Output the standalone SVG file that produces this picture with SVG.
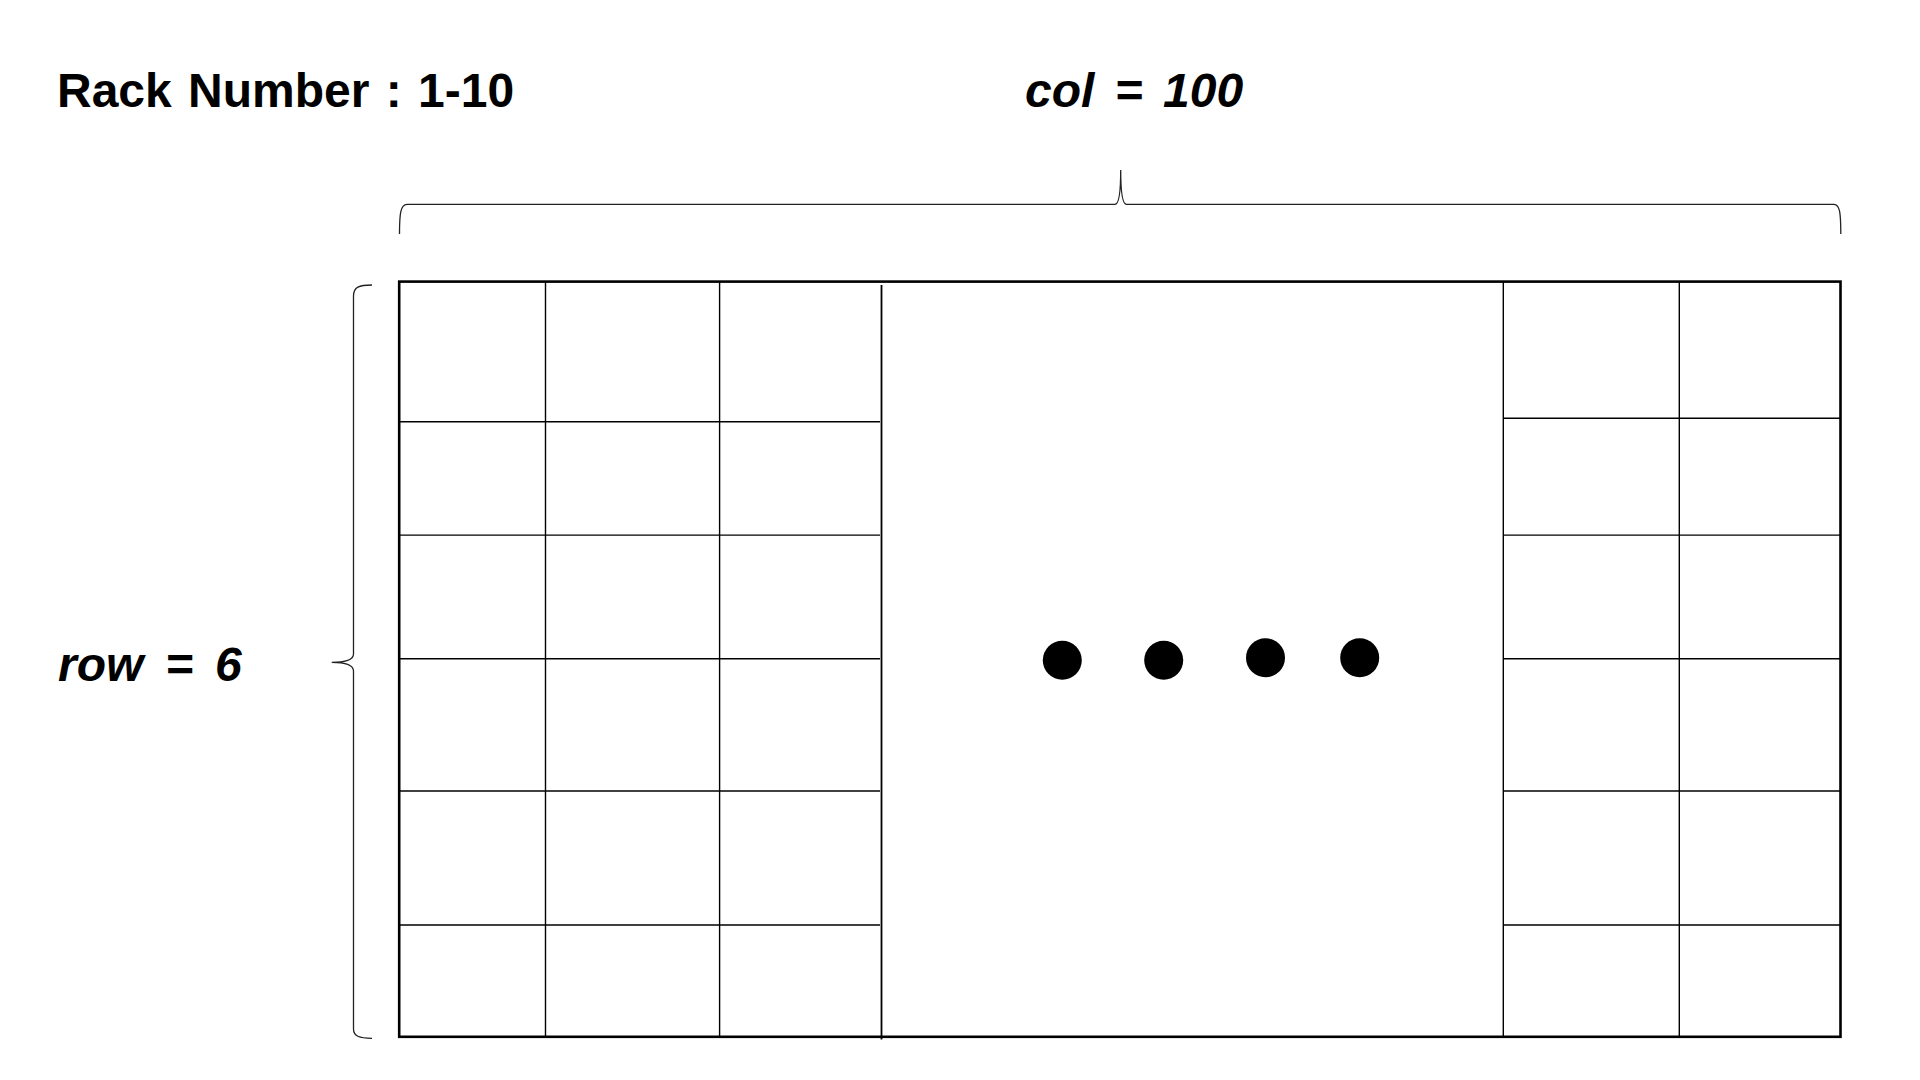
<svg xmlns="http://www.w3.org/2000/svg" width="1920" height="1080" viewBox="0 0 1920 1080">
  <style>
    .title { font-family: "Liberation Sans", Arial, sans-serif; font-weight: bold; font-size: 48px; fill: #000; }
    .label { font-family: "Liberation Sans", Arial, sans-serif; font-weight: bold; font-style: italic; font-size: 48px; fill: #000; }
    .outer { fill: none; stroke: #000; stroke-width: 2.6; }
    .grid { stroke: #000; stroke-width: 1.4; fill: none; }
    .brace { fill: none; stroke: #222; stroke-width: 1.3; }
    .dot { fill: #000; }
  </style>
  <rect x="0" y="0" width="1920" height="1080" fill="#fff"/>

  <g id="title">
    <text class="title" x="57" y="106.5" word-spacing="3">Rack Number : 1-10</text>
  </g>

  <g id="col-label">
    <text class="label" x="1025" y="106.5" word-spacing="7">col = 100</text>
  </g>

  <g id="row-label">
    <text class="label" x="58" y="681" word-spacing="8.5">row = 6</text>
  </g>

  <g id="col-brace">
    <path class="brace" d="M399.5,234 C399.5,214 400.5,204.3 407,204.3 L1115,204.3 C1119,204.3 1120.7,192 1120.7,170 C1120.7,192 1122.5,204.3 1126.5,204.3 L1834,204.3 C1840,204.3 1840.8,214 1840.8,234"/>
  </g>

  <g id="row-brace">
    <path class="brace" d="M372,285 C359,285 353.5,287 353.5,296 L353.5,654 C353.5,660 346,662.3 331.7,662.3 C346,662.3 353.5,664.5 353.5,671 L353.5,1029 C353.5,1036 359,1038.3 372,1038.3"/>
  </g>

  <g id="rack-grid">
    <g id="left-block">
      <line class="grid" x1="545.5" y1="282" x2="545.5" y2="1037"/>
      <line class="grid" x1="719.6" y1="282" x2="719.6" y2="1037"/>
      <line class="grid" x1="399" y1="421.7" x2="880" y2="421.7"/>
      <line class="grid" x1="399" y1="535.1" x2="880" y2="535.1"/>
      <line class="grid" x1="399" y1="658.8" x2="880" y2="658.8"/>
      <line class="grid" x1="399" y1="791" x2="880" y2="791"/>
      <line class="grid" x1="399" y1="925" x2="880" y2="925"/>
    </g>
    <line id="middle-divider" x1="881.5" y1="285" x2="881.5" y2="1039.5" stroke="#000" stroke-width="1.8"/>
    <g id="right-block">
      <line class="grid" x1="1503.3" y1="282" x2="1503.3" y2="1037"/>
      <line class="grid" x1="1679.3" y1="282" x2="1679.3" y2="1037"/>
      <line class="grid" x1="1503.3" y1="418.3" x2="1840" y2="418.3"/>
      <line class="grid" x1="1503.3" y1="535.1" x2="1840" y2="535.1"/>
      <line class="grid" x1="1503.3" y1="658.8" x2="1840" y2="658.8"/>
      <line class="grid" x1="1503.3" y1="791" x2="1840" y2="791"/>
      <line class="grid" x1="1503.3" y1="925" x2="1840" y2="925"/>
    </g>
    <rect id="rack-outline" class="outer" x="399.2" y="281.6" width="1441.3" height="755.2"/>
  </g>

  <g id="ellipsis">
    <circle class="dot" cx="1062.3" cy="660.2" r="19.5"/>
    <circle class="dot" cx="1163.7" cy="660.2" r="19.5"/>
    <circle class="dot" cx="1265.5" cy="657.8" r="19.5"/>
    <circle class="dot" cx="1359.7" cy="657.8" r="19.5"/>
  </g>
</svg>
